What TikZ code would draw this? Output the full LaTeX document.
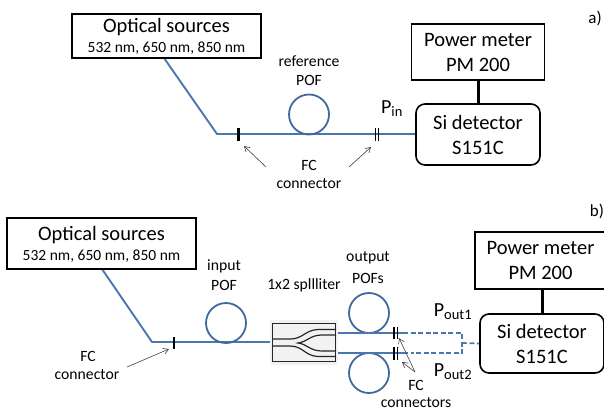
\documentclass[tikz,border=0pt]{standalone}
\usepackage{fontspec}
\setmainfont{Carlito}
\usetikzlibrary{arrows.meta}
\definecolor{fib}{HTML}{4A78AE}
\definecolor{loopc}{HTML}{41699B}
\tikzset{
 x=1pt,y=-1pt,
 blackbox/.style={draw=black,line width=1.6pt,fill=white,align=center,inner sep=0pt,text depth=0pt},
 roundbox/.style={blackbox,rounded corners=9pt},
 fibre/.style={draw=fib,line width=1.9pt},
 dashfibre/.style={draw=fib,line width=1.7pt,dash pattern=on 5pt off 2.5pt},
 fibreloop/.style={circle,draw=loopc,line width=1.8pt,minimum size=40pt,inner sep=0pt},
 conn/.style={draw=black,line width=1.5pt},
 thickconn/.style={draw=black,line width=3pt},
 lead/.style={draw=black!75,line width=.6pt,-{Straight Barb[length=5pt,width=6pt]}},
 lab/.style={inner sep=0pt,align=center,font=\fontsize{15.7}{18.5}\selectfont},
 plab/.style={inner sep=0pt,font=\fontsize{20}{24}\selectfont},
 guide/.style={draw=black!85,line width=1.2pt},
}
\newcommand{\bigt}{\fontsize{20.5}{25}\selectfont}
\newcommand{\smallt}{\fontsize{15.5}{19}\selectfont}
\newcommand{\subt}{\fontsize{14.5}{15}\selectfont}
\begin{document}
\begin{tikzpicture}
\useasboundingbox (0,0) rectangle (604,410);
% ---- a)
\coordinate (a1) at (164,58);
\coordinate (a2) at (217,134);
\coordinate (a3) at (416,134);
\draw[fibre,line join=round] (a1) -- (a2) -- (a3);
\node[fibreloop] (aloop) at (309,114.5) {};
\node[blackbox,minimum width=189pt,minimum height=44pt] (asrc) at (166.5,36) {};
\node[inner sep=0pt] (asrct) at (166.5,27) {\bigt Optical sources};
\node[inner sep=0pt] (asrcs) at (166.5,48.5) {\smallt 532 nm, 650 nm, 850 nm};
\node[blackbox,minimum width=133pt,minimum height=56pt,font=\bigt] (apm) at (478,52) {Power meter\\PM 200};
\node[roundbox,minimum width=124pt,minimum height=61pt,font=\bigt] (adet) at (478,134.5) {Si detector\\S151C};
\draw[black,line width=3pt] (apm.south) -- (adet.north);
\coordinate (ac1t) at (238,127.5); \coordinate (ac1b) at (238,141);
\draw[thickconn] (ac1t) -- (ac1b);
\coordinate (ac2t) at (375.5,127.5); \coordinate (ac2b) at (375.5,141);
\coordinate (ac3t) at (378.5,127.5); \coordinate (ac3b) at (378.5,141);
\draw[conn] (ac2t) -- (ac2b);
\draw[conn] (ac3t) -- (ac3b);
\node[lab] (arefa) at (309,61) {reference};
\node[lab] (arefb) at (309,80) {POF};
\node[lab] (afca) at (309,165) {FC};
\node[lab] (afcb) at (309,184) {connector};
\coordinate (al1s) at (266,167); \coordinate (al1e) at (244,146);
\coordinate (al2s) at (349,167); \coordinate (al2e) at (371,147);
\draw[lead] (al1s) -- (al1e);
\draw[lead] (al2s) -- (al2e);
\node[plab] (apin) at (392,109) {P\textsubscript{\subt in}};
\node[inner sep=0pt,font=\fontsize{17}{20}\selectfont] (alab) at (595,18) {a)};
% ---- b)
\coordinate (b1) at (102,269);
\coordinate (b2) at (152,342);
\coordinate (b3) at (272,342);
\draw[fibre,line join=round] (b1) -- (b2) -- (b3);
\node[fibreloop] (bloop) at (226,323) {};
\node[blackbox,minimum width=189pt,minimum height=51pt] (bsrc) at (101.5,243.5) {};
\node[inner sep=0pt] (bsrct) at (101.5,235) {\bigt Optical sources};
\node[inner sep=0pt] (bsrcs) at (101.5,256) {\smallt 532 nm, 650 nm, 850 nm};
\coordinate (bc1t) at (174,337); \coordinate (bc1b) at (174,349);
\draw[conn] (bc1t) -- (bc1b);
\node[lab] (bina) at (224,266) {input};
\node[lab] (binb) at (224,285) {POF};
\node[lab] (bfca) at (88,356) {FC};
\node[lab] (bfcb) at (87,375) {connector};
\coordinate (bl1s) at (127,367); \coordinate (bl1e) at (169,349);
\draw[lead] (bl1s) -- (bl1e);
% splitter
\fill[black!5] (270,320) rectangle (338,365);
\node[draw=black!85,line width=1.2pt,minimum width=63pt,minimum height=38pt,inner sep=0pt] (split) at (304,342.5) {};
\coordinate (oa) at (338,333); \coordinate (ob) at (338,353);
\draw[guide] (272,339) -- (290,339) .. controls (303,339) and (305,330) .. (318,329.5) -- (336,329.5);
\draw[guide] (272,346) -- (290,346) .. controls (303,346) and (305,356) .. (318,356.5) -- (336,356.5);
\draw[guide] (336,335) -- (322,335) .. controls (310,335) and (307,342) .. (298,343) .. controls (307,344) and (310,351) .. (322,351) -- (336,351);
\node[fibreloop] (oloopa) at (369,313) {};
\node[fibreloop] (oloopb) at (369,373) {};
\coordinate (cut1) at (408,333); \coordinate (cut2) at (408,353);
\draw[fibre] (oa) -- (cut1);
\draw[fibre] (ob) -- (cut2);
\coordinate (jt) at (462,333); \coordinate (jb) at (462,353); \coordinate (jm) at (462,343);
\node[roundbox,minimum width=124pt,minimum height=59pt,font=\bigt] (bdet) at (542,343.5) {Si detector\\S151C};
\node[blackbox,minimum width=131pt,minimum height=57pt,font=\bigt] (bpm) at (540.5,260.5) {Power meter\\PM 200};
\draw[black,line width=3pt] (bdet.north) -- (bdet.north |- bpm.south);
\draw[dashfibre] (cut1) ++(2.5,0) -- (jt) -- (jb) -- (cut2 -| 410.5,0);
\draw[dashfibre] (jm) -- (bdet.west);
\foreach \x/\n in {394/p,397.5/q}{
 \draw[conn] (\x,327) -- (\x,339);
 \draw[conn] (\x,347) -- (\x,360);
}
\node[lab] (boa) at (368,258) {output};
\node[lab] (bob) at (368,278) {POFs};
\node[lab] (bsp) at (304,285) {1x2 spllliter};
\node[lab] (bfc2a) at (416,385) {FC};
\node[lab] (bfc2b) at (416,402.5) {connectors};
\coordinate (bl2s) at (415,372); \coordinate (bl2e) at (399,338);
\coordinate (bl3e) at (402,362);
\draw[lead] (bl2s) -- (bl2e);
\draw[lead] (bl2s) -- (bl3e);
\node[plab] (bp1) at (453,312) {P\textsubscript{\subt out1}};
\node[plab] (bp2) at (453,372) {P\textsubscript{\subt out2}};
\node[inner sep=0pt,font=\fontsize{17}{20}\selectfont] (blab) at (597,211) {b)};
\end{tikzpicture}
\end{document}
